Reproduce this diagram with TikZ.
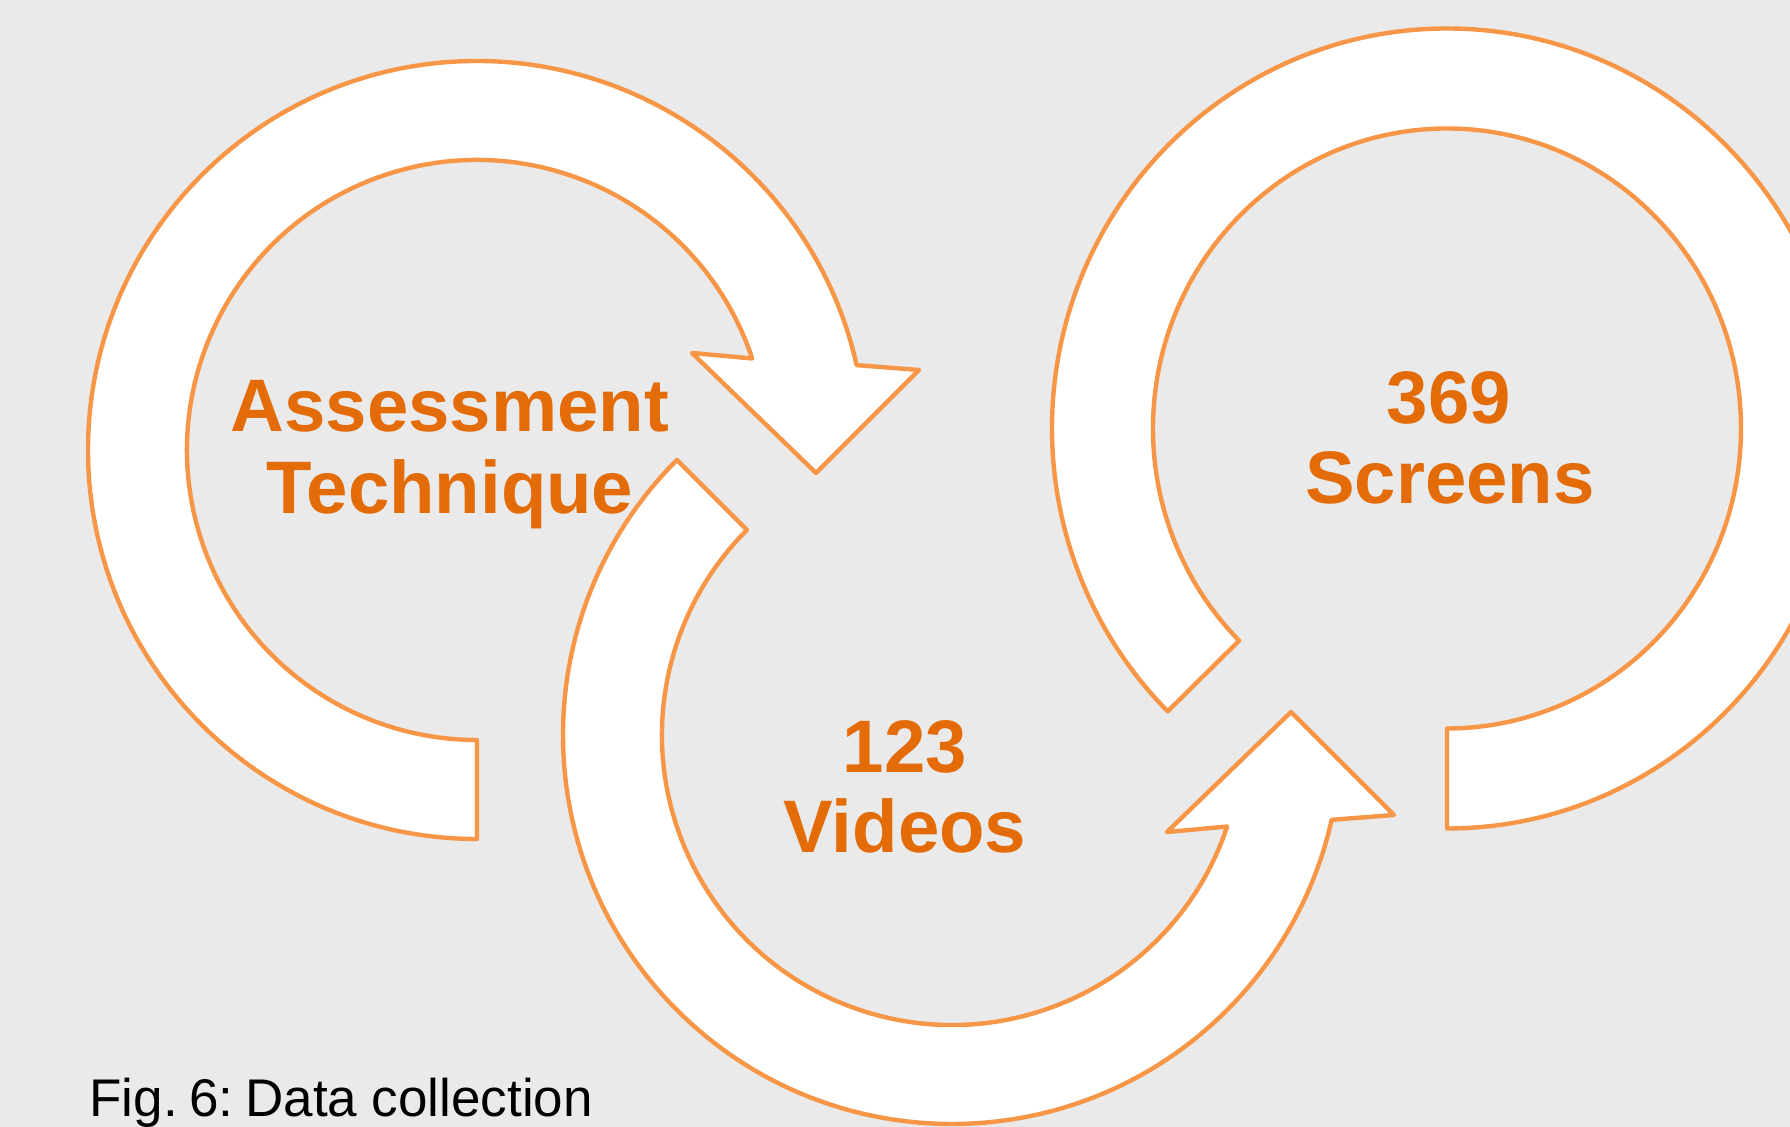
\documentclass[tikz,border=0pt]{standalone}
\usepackage{fontspec}
\setmainfont{Liberation Sans}
\definecolor{bggrey}{HTML}{EAEAEA}
\definecolor{ringorange}{HTML}{F79646}
\definecolor{textorange}{HTML}{E36C09}
\begin{document}
\begin{tikzpicture}[x=0.5pt,y=0.5pt,
  ring/.style={fill=white,draw=ringorange,line width=2.2pt,line join=round},
  bigtext/.style={text=textorange,inner sep=0pt,anchor=base,font=\fontsize{37.2}{41}\selectfont\bfseries},
  captext/.style={text=black,inner sep=0pt,anchor=base west,font=\fontsize{26.5}{30}\selectfont}]
\clip (0,0) rectangle (1790,1127);
\fill[bggrey] (0,0) rectangle (1790,1127);
% circle 1 (Assessment Technique)
\draw[ring] ([shift={(477,677)}]270:389) arc[start angle=270, end angle=12.6, radius=389]
  -- (919,757) -- (816,654) -- (692,774)
  -- ([shift={(477,677)}]18.4:290) arc[start angle=18.4, end angle=270, radius=290] -- cycle;
% circle 2 (Videos)
\draw[ring] ([shift={(952,392)}]135:389) arc[start angle=135, end angle=347.4, radius=389]
  -- (1394,312) -- (1291,415) -- (1167,295)
  -- ([shift={(952,392)}]341.6:290) arc[start angle=341.6, end angle=135, radius=290] -- cycle;
% circle 3 (Screens)
\draw[ring] ([shift={(1447,698.5)}]-90:395 and 400) arc[start angle=-90, end angle=225, x radius=395, y radius=400]
  -- ([shift={(1447,698.5)}]225:294 and 300) arc[start angle=225, end angle=-90, x radius=294, y radius=300] -- cycle;
% texts
\node[bigtext] (assess) at (450,695.5) {Assessment};
\node[bigtext] (techn) at (450,613.3) {Technique};
\node[bigtext] (n369) at (1449,703.5) {369};
\node[bigtext] (screens) at (1450,623.6) {Screens};
\node[bigtext] (n123) at (905,354) {123};
\node[bigtext] (videos) at (905,274.2) {Videos};
\node[captext] (caption) at (89,10.5) {Fig.\hspace{0.22em}6:\hspace{0.22em}Data collection};
\end{tikzpicture}
\end{document}
